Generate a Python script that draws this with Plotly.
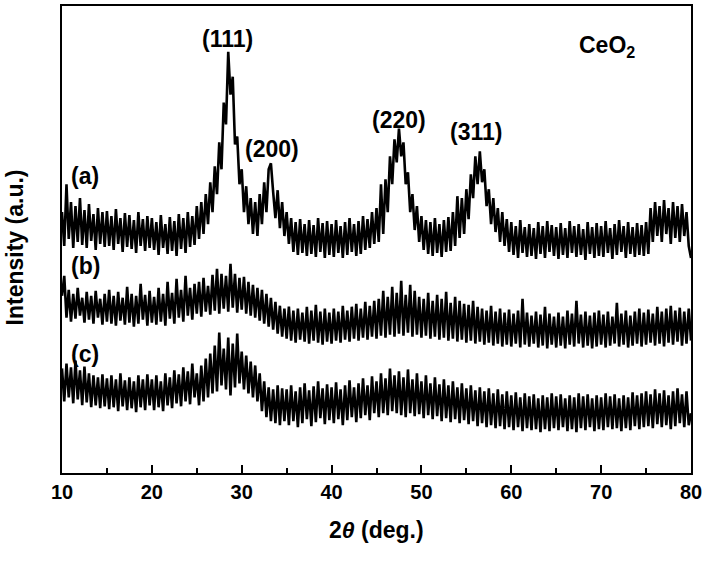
import numpy as np
import plotly.graph_objects as go

# 2-theta sampling grid (deg.), 0.25 deg steps from 10 to 80
two_theta = np.round(np.arange(10.0, 80.001, 0.25), 2)

# Sample (a) intensities (a.u., with vertical offset as plotted)
int_a = [
    262, 228, 290, 235, 272, 226, 268, 232, 276, 229, 264, 226, 270, 233, 260, 224, 266, 230, 262, 227,
    263, 228, 258, 224, 265, 230, 256, 222, 261, 227, 259, 225, 254, 221, 262, 228, 255, 223, 258, 226,
    256, 224, 252, 219, 259, 226, 250, 220, 257, 223, 253, 218, 260, 225, 256, 221, 262, 227, 258, 229,
    268, 235, 272, 240, 280, 250, 292, 262, 308, 280, 332, 305, 372, 350, 423, 380, 398, 330, 338, 290,
    305, 262, 288, 250, 276, 240, 272, 238, 280, 250, 292, 262, 305, 311, 282, 256, 284, 246, 272, 238,
    262, 230, 256, 222, 252, 219, 255, 221, 250, 218, 254, 220, 249, 217, 256, 222, 251, 216, 253, 219,
    250, 217, 254, 221, 248, 216, 252, 219, 256, 222, 250, 218, 253, 220, 258, 224, 255, 226, 262, 230,
    266, 232, 290, 240, 295, 262, 318, 290, 335, 312, 346, 318, 332, 290, 302, 262, 280, 244, 268, 232,
    258, 224, 254, 220, 252, 218, 256, 221, 250, 217, 254, 222, 257, 223, 262, 228, 278, 236, 276, 240,
    285, 255, 300, 276, 318, 290, 323, 292, 305, 268, 285, 250, 276, 242, 266, 232, 262, 228, 255, 222,
    252, 219, 248, 216, 254, 221, 247, 217, 250, 218, 246, 215, 252, 220, 248, 216, 253, 222, 249, 218,
    247, 215, 251, 219, 246, 216, 253, 221, 248, 217, 250, 219, 245, 214, 252, 220, 247, 216, 251, 218,
    248, 217, 253, 221, 246, 215, 250, 219, 254, 222, 248, 216, 252, 220, 247, 217, 251, 219, 249, 218,
    252, 220, 266, 232, 272, 238, 268, 232, 274, 240, 266, 230, 272, 236, 268, 232, 270, 238, 262, 228,
    216,
]

# Sample (b) intensities
int_b = [
    178, 198, 156, 184, 152, 180, 155, 186, 158, 176, 151, 182, 154, 178, 150, 183, 156, 175, 149, 180,
    152, 184, 150, 178, 148, 182, 153, 176, 149, 187, 151, 180, 147, 178, 150, 190, 154, 179, 148, 183,
    151, 177, 149, 186, 152, 180, 148, 192, 155, 181, 150, 195, 156, 184, 152, 198, 158, 186, 154, 190,
    160, 192, 157, 196, 162, 188, 159, 199, 163, 205, 160, 200, 165, 198, 162, 210, 166, 200, 161, 196,
    164, 197, 160, 192, 158, 189, 156, 186, 153, 184, 150, 180, 147, 176, 144, 172, 140, 168, 137, 165,
    135, 167, 133, 163, 131, 165, 134, 161, 132, 167, 130, 163, 133, 169, 131, 162, 129, 165, 132, 161,
    130, 165, 133, 162, 131, 168, 134, 163, 132, 167, 135, 170, 133, 165, 136, 172, 134, 168, 137, 173,
    135, 175, 138, 183, 136, 177, 139, 187, 137, 181, 140, 193, 138, 179, 141, 189, 137, 183, 139, 177,
    136, 175, 138, 181, 135, 173, 137, 179, 134, 175, 136, 182, 133, 171, 135, 177, 132, 173, 134, 170,
    131, 169, 133, 173, 130, 167, 132, 165, 129, 163, 131, 168, 128, 162, 130, 165, 127, 161, 129, 164,
    127, 160, 130, 163, 126, 175, 129, 161, 127, 158, 130, 162, 126, 159, 128, 167, 125, 160, 129, 157,
    126, 161, 128, 157, 125, 163, 129, 160, 127, 173, 130, 159, 126, 162, 128, 158, 125, 161, 127, 163,
    129, 159, 126, 162, 128, 157, 130, 171, 127, 160, 129, 163, 126, 158, 128, 162, 130, 165, 127, 161,
    129, 164, 131, 160, 128, 167, 130, 162, 127, 165, 131, 168, 129, 163, 132, 166, 128, 162, 130, 165,
    133,
]

# Sample (c) intensities
int_c = [
    105, 72, 110, 76, 106, 70, 113, 74, 103, 68, 107, 71, 100, 66, 98, 68, 96, 65, 99, 67,
    95, 64, 98, 66, 94, 62, 100, 67, 93, 63, 96, 65, 92, 61, 98, 66, 94, 63, 99, 68,
    94, 63, 98, 66, 92, 62, 100, 68, 96, 65, 103, 70, 99, 67, 106, 72, 102, 69, 110, 76,
    100, 68, 108, 72, 115, 76, 120, 80, 128, 82, 141, 88, 125, 84, 136, 78, 130, 86, 140, 90,
    122, 84, 118, 80, 112, 76, 108, 72, 100, 62, 92, 56, 86, 52, 84, 50, 88, 48, 85, 52,
    84, 48, 88, 52, 82, 46, 86, 50, 90, 54, 83, 47, 87, 51, 92, 55, 85, 49, 89, 53,
    86, 50, 91, 54, 84, 48, 88, 53, 93, 56, 86, 51, 90, 55, 95, 58, 88, 53, 97, 60,
    92, 56, 100, 60, 95, 58, 105, 62, 98, 60, 102, 58, 96, 56, 104, 60, 94, 57, 100, 59,
    92, 55, 98, 58, 90, 54, 96, 57, 89, 52, 94, 55, 88, 51, 92, 54, 86, 50, 90, 53,
    85, 49, 88, 52, 83, 47, 86, 50, 82, 46, 85, 48, 80, 45, 84, 47, 79, 44, 82, 46,
    78, 43, 81, 46, 76, 42, 80, 45, 77, 43, 79, 44, 75, 41, 78, 44, 76, 42, 80, 45,
    77, 43, 79, 46, 75, 42, 78, 44, 76, 41, 80, 45, 77, 43, 79, 46, 75, 42, 78, 44,
    76, 43, 80, 46, 77, 44, 79, 45, 75, 42, 78, 45, 76, 43, 81, 47, 78, 44, 80, 46,
    82, 47, 79, 45, 84, 49, 80, 46, 83, 48, 78, 44, 82, 47, 85, 50, 79, 46, 82, 48,
    60,
]

series_labels = ["(a)", "(b)", "(c)"]
label_pos_x = [12.6, 12.6, 12.6]
label_pos_y = [298, 208, 120]

peak_labels = ["(111)", "(200)", "(220)", "(311)"]
peak_x = [28.4, 33.4, 47.5, 56.1]
peak_y = [436, 325, 355, 342]

FONT = "Liberation Sans, Arial, Helvetica, sans-serif"

fig = go.Figure()
for ys in (int_a, int_b, int_c):
    fig.add_trace(go.Scatter(x=two_theta, y=ys, mode="lines",
                             line=dict(color="black", width=2.6),
                             showlegend=False, hoverinfo="skip"))

annotations = []
for t, x, y in zip(peak_labels, peak_x, peak_y):
    annotations.append(dict(x=x, y=y, xref="x", yref="y", text="<b>%s</b>" % t,
                            showarrow=False, font=dict(size=23, color="black", family=FONT)))
for t, x, y in zip(series_labels, label_pos_x, label_pos_y):
    annotations.append(dict(x=x, y=y, xref="x", yref="y", text="<b>%s</b>" % t,
                            showarrow=False, font=dict(size=23, color="black", family=FONT)))
annotations.append(dict(x=70.6, y=428, xref="x", yref="y", text="<b>CeO<sub>2</sub></b>",
                        showarrow=False, font=dict(size=23, color="black", family=FONT)))
# axis titles
annotations.append(dict(x=0.5, y=-0.122, xref="paper", yref="paper", xanchor="center", yanchor="middle",
                        text="<b>2<i>θ</i> (deg.)</b>", showarrow=False,
                        font=dict(size=23, color="black", family=FONT)))
annotations.append(dict(x=-0.074, y=0.484, xref="paper", yref="paper", xanchor="center", yanchor="middle",
                        text="<b>Intensity (a.u.)</b>", textangle=-90, showarrow=False,
                        font=dict(size=23, color="black", family=FONT)))

fig.update_layout(
    width=706, height=572,
    margin=dict(l=62, r=14, t=4, b=99),
    paper_bgcolor="white", plot_bgcolor="white",
    font=dict(family=FONT, color="black"),
    annotations=annotations,
    xaxis=dict(range=[10, 80], dtick=10, tick0=10,
               ticks="inside", ticklen=8, tickwidth=2, tickcolor="black",
               minor=dict(dtick=5, ticks="inside", ticklen=5, tickwidth=1.5, tickcolor="black"),
               showline=True, linewidth=2, linecolor="black", mirror=True,
               showgrid=False, zeroline=False,
               tickfont=dict(size=20, family=FONT, color="black", weight="bold")),
    yaxis=dict(range=[0, 469], showticklabels=False, ticks="",
               showline=True, linewidth=2, linecolor="black", mirror=True,
               showgrid=False, zeroline=False),
)

fig.write_html("out.html", config={"displayModeBar": False},
               post_script="document.body.style.margin='0px';")
